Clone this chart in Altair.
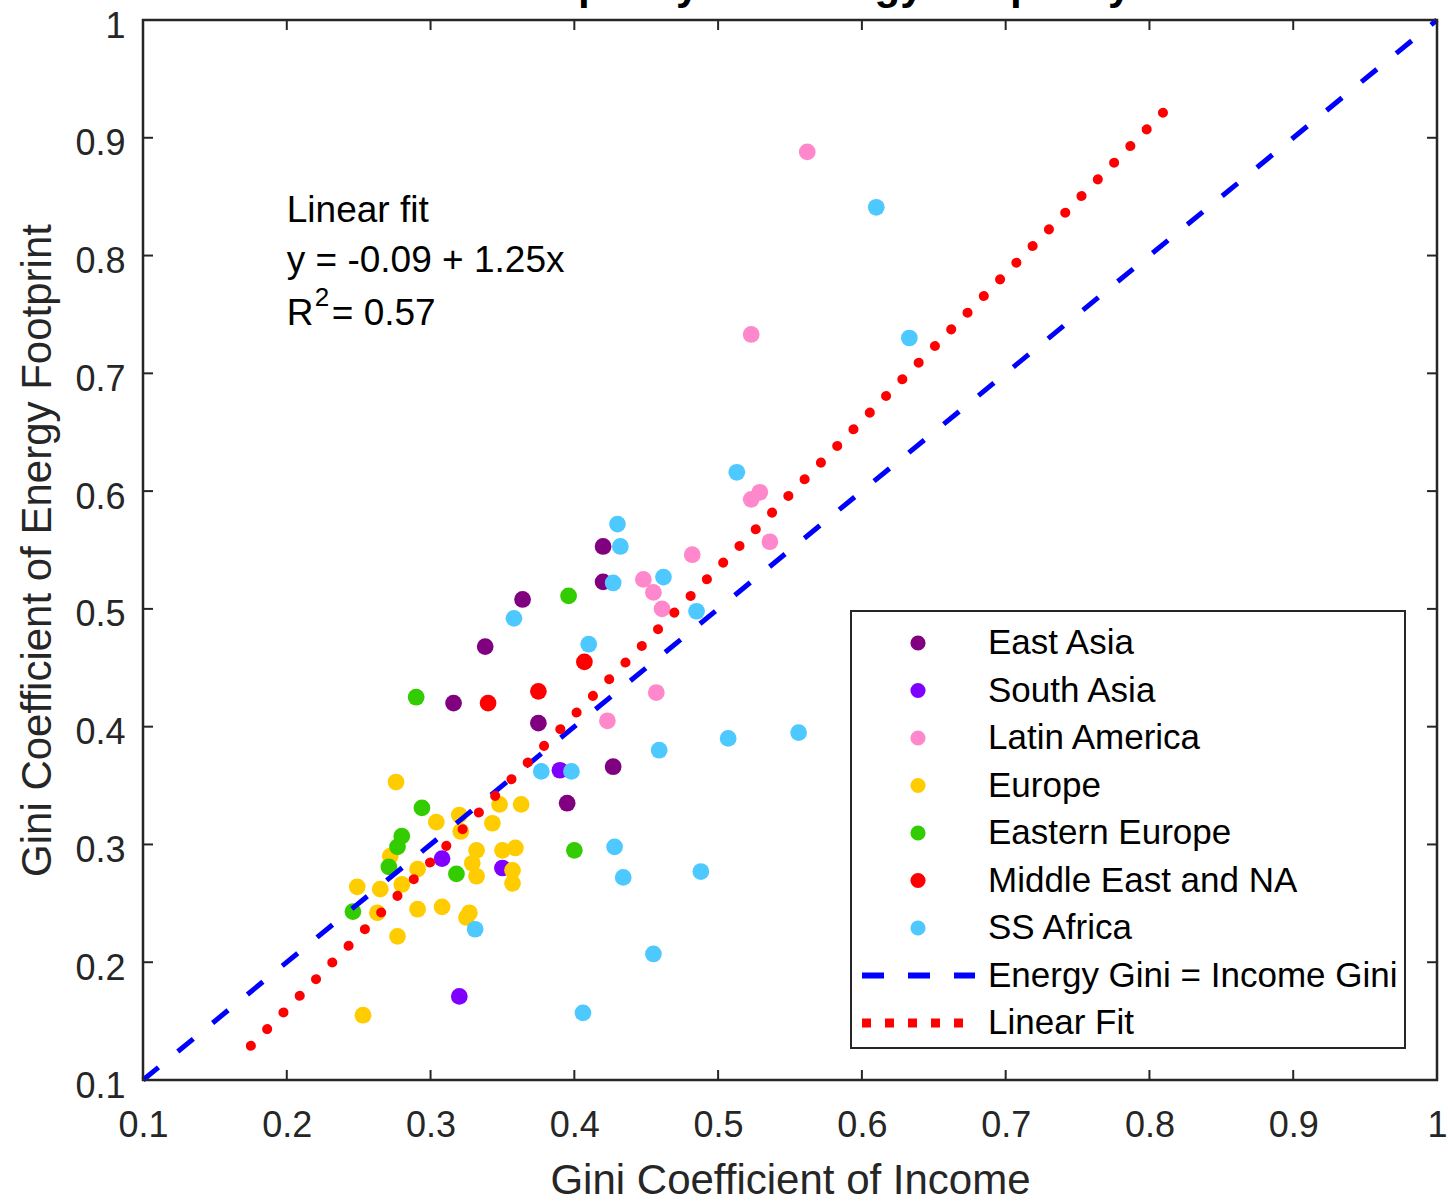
import altair as alt
import pandas as pd

FONT = "Liberation Sans"
AXIS_COLOR = "#262626"

# ---------------- data ----------------
regions = ["East Asia", "South Asia", "Latin America", "Europe",
           "Eastern Europe", "Middle East and NA", "SS Africa"]
region_colors = ["#800080", "#8000FF", "#FF88CC", "#FFCC00",
                 "#33CC00", "#FF0000", "#4DC9FF"]

east_asia_x = [0.420, 0.420, 0.364, 0.338, 0.316, 0.375, 0.427, 0.395]
east_asia_y = [0.553, 0.523, 0.508, 0.468, 0.420, 0.403, 0.366, 0.335]

south_asia_x = [0.390, 0.308, 0.350, 0.320]
south_asia_y = [0.363, 0.288, 0.280, 0.171]

latin_america_x = [0.562, 0.523, 0.529, 0.523, 0.536, 0.482, 0.448, 0.455, 0.461, 0.457, 0.423]
latin_america_y = [0.888, 0.733, 0.599, 0.593, 0.557, 0.546, 0.525, 0.514, 0.500, 0.429, 0.405]

europe_x = [0.276, 0.304, 0.320, 0.348, 0.363, 0.343, 0.321, 0.272, 0.332, 0.329,
            0.332, 0.350, 0.359, 0.357, 0.357, 0.291, 0.249, 0.265, 0.280, 0.263,
            0.291, 0.308, 0.327, 0.325, 0.277, 0.253]
europe_y = [0.353, 0.319, 0.325, 0.334, 0.334, 0.318, 0.311, 0.290, 0.295, 0.284,
            0.273, 0.295, 0.297, 0.278, 0.267, 0.279, 0.264, 0.262, 0.266, 0.242,
            0.245, 0.247, 0.242, 0.238, 0.222, 0.155]

eastern_europe_x = [0.396, 0.290, 0.294, 0.280, 0.277, 0.271, 0.318, 0.246, 0.400]
eastern_europe_y = [0.511, 0.425, 0.331, 0.307, 0.298, 0.281, 0.275, 0.243, 0.295]

middle_east_x = [0.407, 0.375, 0.340]
middle_east_y = [0.455, 0.430, 0.420]

ss_africa_x = [0.610, 0.633, 0.513, 0.430, 0.432, 0.427, 0.462, 0.485, 0.410, 0.358,
               0.459, 0.507, 0.556, 0.377, 0.398, 0.428, 0.434, 0.488, 0.331, 0.455, 0.406]
ss_africa_y = [0.841, 0.730, 0.616, 0.572, 0.553, 0.522, 0.527, 0.498, 0.470, 0.492,
               0.380, 0.390, 0.395, 0.362, 0.362, 0.298, 0.272, 0.277, 0.228, 0.207, 0.157]

series_x = [east_asia_x, south_asia_x, latin_america_x, europe_x,
            eastern_europe_x, middle_east_x, ss_africa_x]
series_y = [east_asia_y, south_asia_y, latin_america_y, europe_y,
            eastern_europe_y, middle_east_y, ss_africa_y]

# reference line (Energy Gini = Income Gini)
ref_x = [0.1, 1.0]
ref_y = [0.1, 1.0]
# linear fit line, endpoints
fit_x = [0.175, 0.818]
fit_y = [0.129, 0.932]

tick_values = [0.1, 0.2, 0.3, 0.4, 0.5, 0.6, 0.7, 0.8, 0.9, 1.0]

title_text = "Income Inequality vs. Energy Inequality"
x_title = "Gini Coefficient of Income"
y_title = "Gini Coefficient of Energy Footprint"
ann_line1 = "Linear fit"
ann_line2 = "y = -0.09 + 1.25x"
legend_labels = regions + ["Energy Gini = Income Gini", "Linear Fit"]

# ---------------- tables ----------------
rows = []
idx = 0
for reg, col, xs_, ys_ in zip(regions, region_colors, series_x, series_y):
    for a, b in zip(xs_, ys_):
        rows.append({"region": reg, "color": col, "income": a, "energy": b, "idx": idx})
        idx += 1
pts = pd.DataFrame(rows)
ref_df = pd.DataFrame({"income": ref_x, "energy": ref_y})
fit_df = pd.DataFrame({"income": fit_x, "energy": fit_y})
ticks_df = pd.DataFrame({"income": tick_values, "energy": tick_values})
ann_df = pd.DataFrame({"income": [0.2], "energy": [0.8]})
one_df = pd.DataFrame({"a": [0]})

leg_df = pd.DataFrame({
    "label": legend_labels,
    "row": list(range(len(legend_labels))),
    "color": region_colors + ["#0000FF", "#FF0000"],
})

# ---------------- layout ----------------
W, H = 1294, 1060
xs = alt.Scale(domain=[0.1, 1.0], nice=False, zero=False)
ys = alt.Scale(domain=[0.1, 1.0], nice=False, zero=False)
lbl_expr = "datum.value == 1 ? '1' : format(datum.value, '.1f')"

x_axis = alt.Axis(
    values=tick_values, labelExpr=lbl_expr, domain=False, ticks=False, grid=False,
    labelFont=FONT, labelFontSize=36, labelColor=AXIS_COLOR, labelPadding=28,
    labelFlush=False, labelOverlap=False, labelBound=False,
    title=x_title, titleFont=FONT, titleFontSize=42, titleFontWeight="normal",
    titleColor=AXIS_COLOR, titleBaseline="alphabetic", titleAlign="center",
    titleX=W / 2, titleY=113,
)
y_axis = alt.Axis(
    values=tick_values, labelExpr=lbl_expr, domain=False, ticks=False, grid=False,
    labelFont=FONT, labelFontSize=36, labelColor=AXIS_COLOR, labelPadding=18,
    labelAlign="right", labelBaseline="middle", labelOffset=6,
    labelFlush=False, labelOverlap=False, labelBound=False,
    title=y_title, titleFont=FONT, titleFontSize=42, titleFontWeight="normal",
    titleColor=AXIS_COLOR, titleBaseline="alphabetic", titleAlign="center",
    titleAngle=270, titleX=-93, titleY=H / 2,
)


def X():
    return alt.X("income:Q", scale=xs, axis=x_axis)


def Y():
    return alt.Y("energy:Q", scale=ys, axis=y_axis)


points = alt.Chart(pts).mark_circle(size=280, opacity=1).encode(
    x=X(), y=Y(), color=alt.Color("color:N", scale=None), order=alt.Order("idx:Q")
)
ref_line = alt.Chart(ref_df).mark_line(
    color="#0000FF", strokeWidth=5, strokeDash=[20, 25]
).encode(x=X(), y=Y())
fit_line = alt.Chart(fit_df).mark_line(
    color="#FF0000", strokeWidth=10, strokeDash=[0.1, 23.2], strokeCap="round"
).encode(x=X(), y=Y())

tick_style = dict(color=AXIS_COLOR, strokeWidth=2)
tick_bottom = alt.Chart(ticks_df).mark_rule(**tick_style).encode(
    x=X(), y=alt.value(H), y2=alt.value(H - 10))
tick_top = alt.Chart(ticks_df).mark_rule(**tick_style).encode(
    x=X(), y=alt.value(0), y2=alt.value(10))
tick_left = alt.Chart(ticks_df).mark_rule(**tick_style).encode(
    y=Y(), x=alt.value(0), x2=alt.value(10))
tick_right = alt.Chart(ticks_df).mark_rule(**tick_style).encode(
    y=Y(), x=alt.value(W), x2=alt.value(W - 10))

ann_style = dict(font=FONT, color="black", align="left", baseline="alphabetic")
ann1 = alt.Chart(ann_df).mark_text(text=ann_line1, fontSize=37, dy=-34, **ann_style).encode(x=X(), y=Y())
ann2 = alt.Chart(ann_df).mark_text(text=ann_line2, fontSize=37, dy=16, **ann_style).encode(x=X(), y=Y())
ann3a = alt.Chart(ann_df).mark_text(text="R", fontSize=37, dy=69, **ann_style).encode(x=X(), y=Y())
ann3b = alt.Chart(ann_df).mark_text(text="2", fontSize=26, dx=28, dy=50, **ann_style).encode(x=X(), y=Y())
ann3c = alt.Chart(ann_df).mark_text(text="= 0.57", fontSize=37, dx=45, dy=69, **ann_style).encode(x=X(), y=Y())

title_mark = alt.Chart(one_df).mark_text(
    text=title_text, font=FONT, fontSize=42, fontWeight="bold", color="black",
    align="center", baseline="alphabetic"
).encode(x=alt.value(595), y=alt.value(-21))

main = alt.layer(points, ref_line, fit_line, tick_bottom, tick_top, tick_left,
                 tick_right, ann1, ann2, ann3a, ann3b, ann3c, title_mark)

# ---------------- legend ----------------
leg_scale = alt.Scale(domain=[0, 8], range=[623, 1003])
leg_box = alt.Chart(one_df).mark_rect(
    fill="white", stroke=AXIS_COLOR, strokeWidth=2
).encode(x=alt.value(708), x2=alt.value(1262), y=alt.value(591), y2=alt.value(1028))
leg_pts = alt.Chart(leg_df.iloc[:7]).mark_circle(size=230, opacity=1).encode(
    x=alt.value(775), y=alt.Y("row:Q", scale=leg_scale, axis=None),
    color=alt.Color("color:N", scale=None))
leg_txt = alt.Chart(leg_df).mark_text(
    font=FONT, fontSize=35, color="black", align="left", baseline="middle"
).encode(x=alt.value(845), y=alt.Y("row:Q", scale=leg_scale, axis=None), text="label:N")
leg_blue = alt.Chart(leg_df.iloc[7:8]).mark_rule(
    color="#0000FF", strokeWidth=6, strokeDash=[22, 24]
).encode(x=alt.value(719), x2=alt.value(832), y=alt.Y("row:Q", scale=leg_scale, axis=None))
leg_red = alt.Chart(leg_df.iloc[8:9]).mark_rule(
    color="#FF0000", strokeWidth=9, strokeDash=[9, 14]
).encode(x=alt.value(719), x2=alt.value(832), y=alt.Y("row:Q", scale=leg_scale, axis=None))

legend = alt.layer(leg_box, leg_blue, leg_red, leg_pts, leg_txt)

chart = alt.layer(main, legend).resolve_scale(y="independent").properties(
    width=W, height=H,
    autosize=alt.AutoSizeParams(type="none"),
    padding={"left": 143, "top": 20, "right": 11, "bottom": 121},
    background="white",
).configure_view(stroke=AXIS_COLOR, strokeWidth=2.5)

chart.save("out.html", embed_options={"renderer": "svg", "actions": False})
